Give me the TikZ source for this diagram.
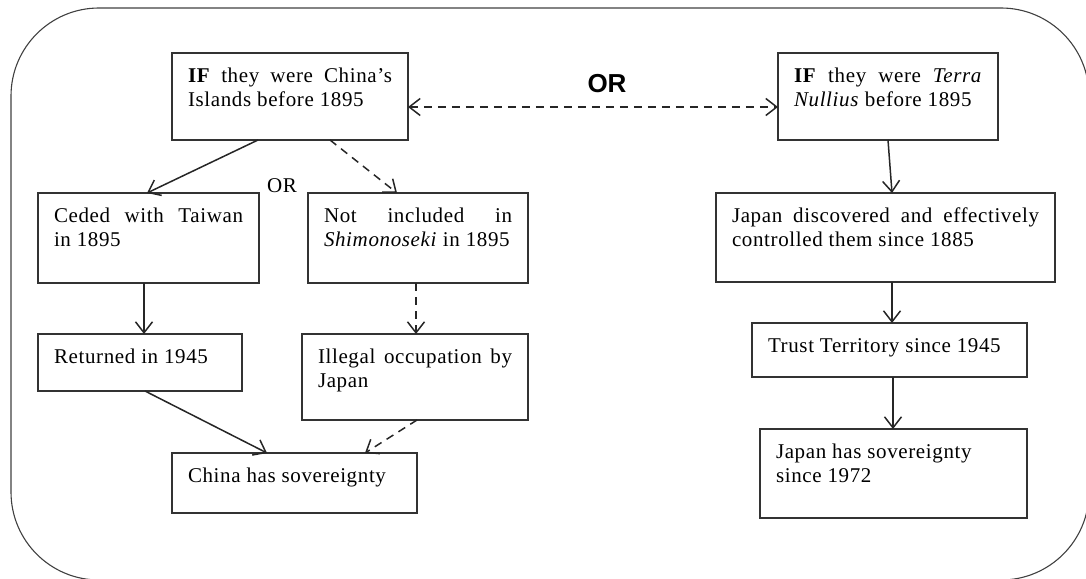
\documentclass[tikz,border=0pt]{standalone}
\usepackage{fontspec}
\setmainfont{Liberation Serif}[LetterSpace=3]
\newfontfamily\orfont{Liberation Sans}
\usetikzlibrary{arrows.meta}
\hbadness=10000
% text block of a box: fixed width and height, text from the top
\newcommand\cardbody[3]{\parbox[t][#2][t]{#1}{\rule{0pt}{29pt}#3}}
\begin{document}
\begin{tikzpicture}[x=1pt,y=-1pt,
  font={\fontsize{21pt}{24pt}\selectfont},
  barb/.tip={Straight Barb[length=11pt,width=17pt]},
  card/.style={draw=black!80, line width=1.5pt, anchor=north west,
    inner xsep=16pt, inner ysep=0pt, outer sep=0pt},
  link/.style={draw=black!85, line width=1.5pt, -barb},
  alt/.style={link, dash pattern=on 8pt off 6pt}]
\useasboundingbox (0,0) rectangle (1086,578);
\begin{scope}
  \clip (0,0) rectangle (1086,578);
  \draw[black!75, line width=1.1pt, rounded corners=88pt] (11,8) rectangle (1089,580);
\end{scope}

% left branch
\node[card] (chinaIf) at (172,53) {\cardbody{204pt}{87pt}{\textbf{IF} they were China’s\linebreak Islands before 1895}};
\node[card] (cede) at (38,193) {\cardbody{189pt}{90pt}{Ceded with Taiwan\linebreak in 1895}};
\node[card] (notinc) at (308,193) {\cardbody{188pt}{90pt}{Not included in\linebreak \textit{Shimonoseki} in 1895}};
\node[card] (ret) at (38,334) {\cardbody{172pt}{57pt}{Returned in 1945}};
\node[card] (illegal) at (302,334) {\cardbody{194pt}{86pt}{Illegal occupation by\linebreak Japan}};
\node[card] (chinaSov) at (172,453) {\cardbody{213pt}{60pt}{China has sovereignty}};

% right branch
\node[card] (terraIf) at (778,53) {\cardbody{188pt}{87pt}{\textbf{IF} they were \textit{Terra}\linebreak \textit{Nullius} before 1895}};
\node[card] (jpDisc) at (716,193) {\cardbody{307pt}{89pt}{Japan discovered and effectively\linebreak controlled them since 1885}};
\node[card] (trust) at (752,323) {\cardbody{243pt}{54pt}{Trust Territory since 1945}};
\node[card] (jpSov) at (760,429) {\cardbody{235pt}{89pt}{Japan has sovereignty\newline since 1972}};

% labels
\node[font={\orfont\bfseries\fontsize{26pt}{28pt}\selectfont}] (orBig) at (607,84) {OR};
\node (orSmall) at (282,186) {OR};

% connectors
\draw[link] ([xshift=86pt]chinaIf.south west) -- ([xshift=109pt]cede.north west);
\draw[alt] ([xshift=158pt]chinaIf.south west) -- ([xshift=89pt]notinc.north west);
\draw[link] ([xshift=106pt]cede.south west) -- ([xshift=106pt]ret.north west);
\draw[alt] ([xshift=108pt]notinc.south west) -- ([xshift=114pt]illegal.north west);
\draw[link] ([xshift=107pt]ret.south west) -- ([xshift=95pt]chinaSov.north west);
\draw[alt] ([xshift=115pt]illegal.south west) -- ([xshift=193pt]chinaSov.north west);
\draw[alt, barb-barb] ([yshift=-10.5pt]chinaIf.east) -- ([yshift=-10.5pt]terraIf.west);
\draw[link] ([xshift=110pt]terraIf.south west) -- ([xshift=176pt]jpDisc.north west);
\draw[link] ([xshift=176pt]jpDisc.south west) -- ([xshift=140pt]trust.north west);
\draw[link] ([xshift=141pt]trust.south west) -- ([xshift=133pt]jpSov.north west);
\end{tikzpicture}
\end{document}
